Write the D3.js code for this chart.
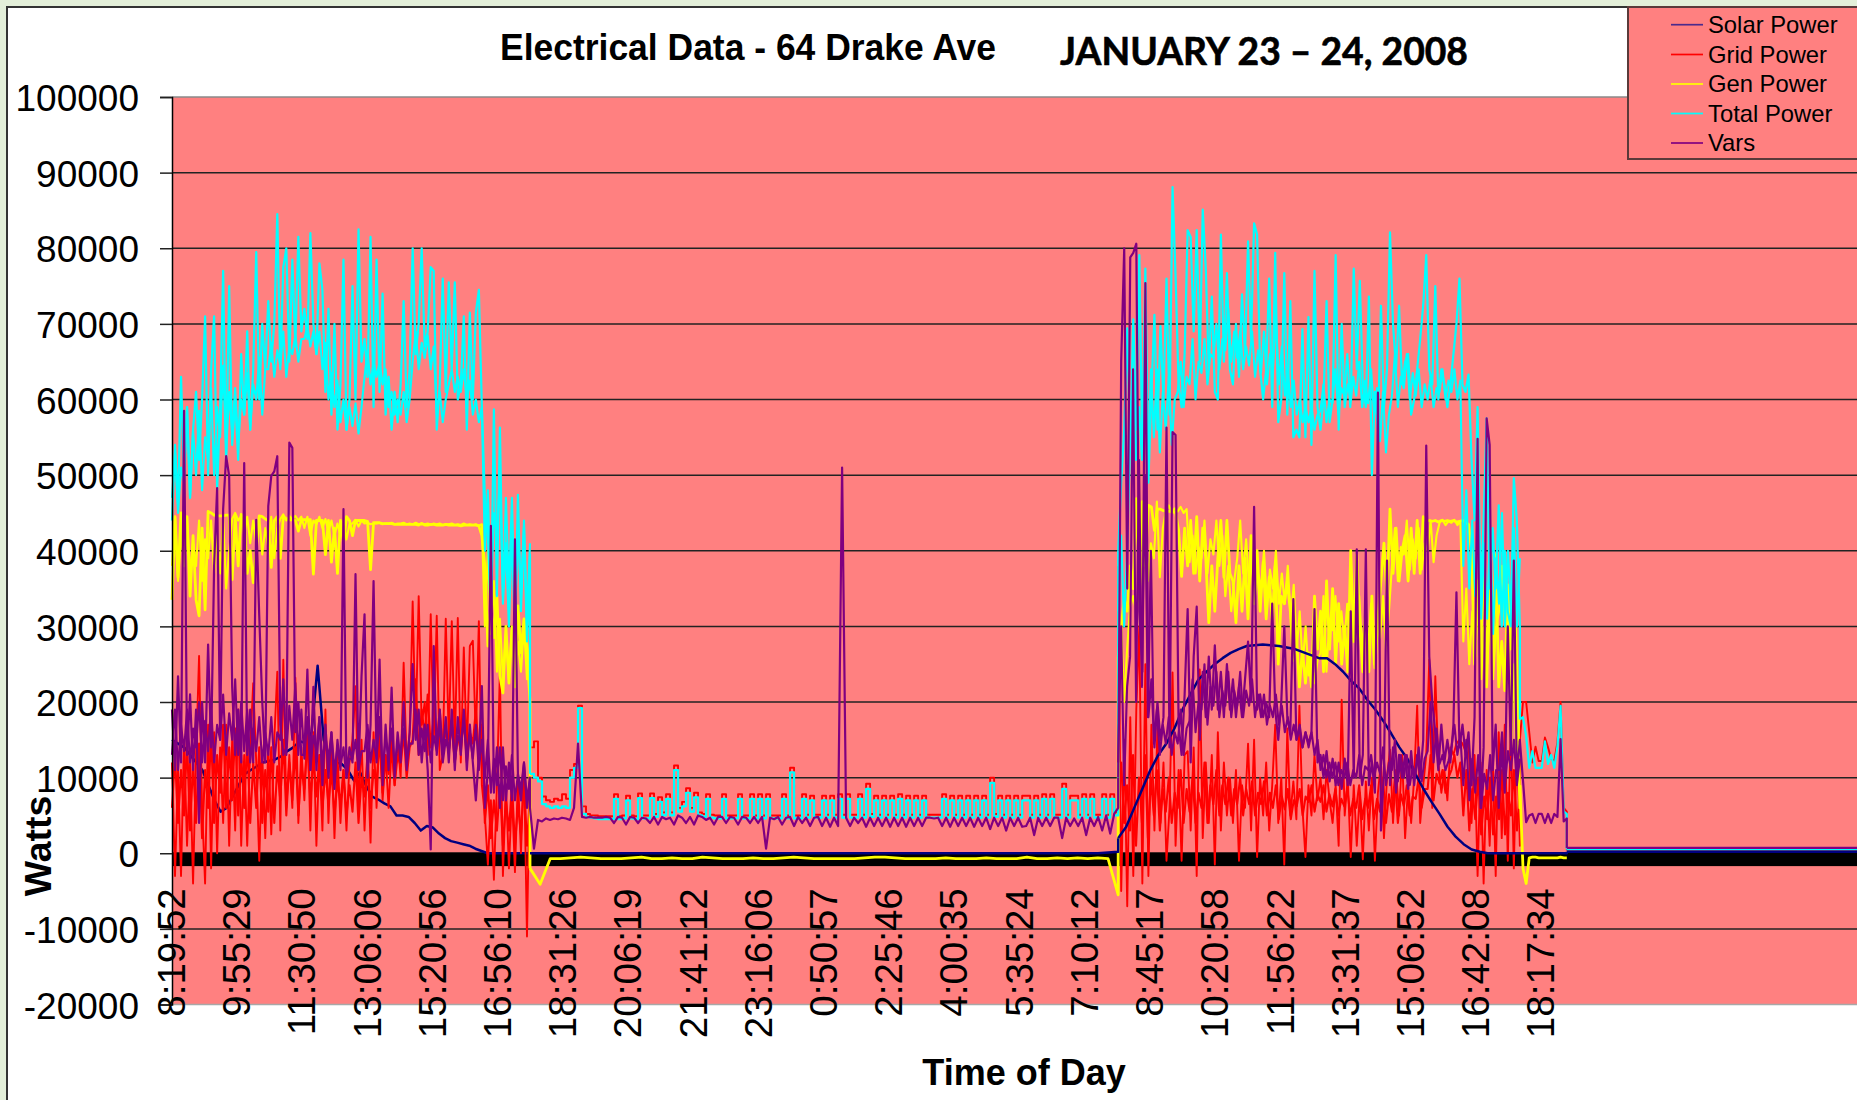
<!DOCTYPE html>
<html>
<head>
<meta charset="utf-8">
<script src="https://cdn.jsdelivr.net/npm/d3@7"></script>
<style>
  html, body { margin: 0; padding: 0; background: #e3efd9; }
  svg { display: block; }
  text { font-family: "Liberation Sans", Arial, sans-serif; fill: #000; }
</style>
</head>
<body>
<div id="chart"></div>
<script>
// Tick labels along the time axis
const timeLabels = ["8:19:52", "9:55:29", "11:30:50", "13:06:06", "15:20:56", "16:56:10", "18:31:26",
  "20:06:19", "21:41:12", "23:16:06", "0:50:57", "2:25:46", "4:00:35", "5:35:24", "7:10:12", "8:45:17",
  "10:20:58", "11:56:22", "13:31:37", "15:06:52", "16:42:08", "18:17:34"];
const wattTicks = d3.range(-20000, 100001, 10000);

// Each one comes in stretches: first day, night, second day, evening tail, idle.
const totalDayOne = [440,540,460,630,500,590,470,560,610,520,
  600,710,500,640,710,480,590,770,510,750,
  540,600,520,660,580,690,560,640,795,600,
  700,640,730,650,700,845,640,775,800,650,
  785,670,815,690,720,680,820,700,660,780,
  745,610,720,580,700,560,620,785,560,600,
  750,600,825,650,680,630,815,590,785,610,
  740,580,630,560,610,570,620,730,590,640,
  800,660,700,800,670,690,775,770,560,620,
  760,610,755,640,755,600,620,710,560,715,
  600,715,745,590,470,420,310,587,340,563,
  330,410,300,430,290,474,320,430,280,395];
const totalNight = [105,100,95,65,62,60,62,60,62,60,
  100,113,192,52,48,47,46,45,45,45,
  45,72,45,46,70,46,45,73,46,46,
  73,48,68,50,72,50,110,55,62,80,
  55,74,50,48,72,47,46,46,72,46,
  46,46,72,46,46,72,46,72,46,72,
  46,46,46,72,46,107,46,46,72,47,
  70,47,47,70,47,70,47,72,47,72,
  47,47,72,47,85,48,70,47,70,47,
  70,47,72,47,70,47,70,47,70,47,
  47,47,47,72,47,70,47,70,47,70,
  47,70,47,70,47,93,48,70,47,70,
  47,70,47,70,70,47,70,47,72,47,
  72,47,47,85,47,70,70,47,72,47,
  72,47,47,72,47,72,50,95];
const totalDayTwo = [400,490,560,694,540,706,560,791,530,773,
  490,610,712,560,697,600,760,580,881,763,
  620,590,660,824,815,690,824,650,851,773,
  640,736,610,600,818,650,767,640,620,700,
  630,739,660,809,680,833,818,640,600,640,
  760,590,794,570,600,767,580,730,550,560,
  550,693,550,709,540,770,590,560,600,730,
  570,600,791,560,700,590,620,600,773,640,
  757,620,590,736,500,610,560,724,590,640,
  821,700,640,724,620,650,660,580,600,640,
  680,725,791,640,620,750,600,640,620,590,
  620,660,700,760,620,610,633,520,440,590,
  340,440,575,350,430,350,460,300,400,320,
  300,496,440,300];
const totalTail = [177,180,155,113,135,113,113,113,148,118,130,113,141,195,55,52];
const totalIdle = [5,5];

const gridDayOne = [120,-30,110,-30,150,10,120,-40,130,261,
  60,-40,170,-20,160,0,140,40,170,10,
  150,30,190,10,130,10,140,225,120,-10,
  130,20,140,25,150,240,30,256,60,130,
  60,232,40,140,70,170,30,160,10,130,
  30,190,40,150,20,130,40,110,30,120,
  150,221,60,150,30,130,14,160,60,170,
  70,130,60,140,90,150,100,252,120,160,
  333,160,340,170,200,130,316,150,314,110,
  130,310,150,307,140,311,120,272,130,274,
  281,150,307,90,50,-15,70,-35,90,241,
  -30,90,-20,80,-25,100,0,120,-110,120];
const gridNight = [140,148,100,75,70,68,72,70,78,72,
  110,118,195,62,52,50,50,49,49,49,
  49,78,49,50,76,50,49,79,50,50,
  79,52,74,54,78,54,116,60,68,86,
  60,80,54,52,78,51,50,50,78,50,
  50,50,78,50,50,78,50,78,50,78,
  50,50,50,78,50,113,50,50,78,51,
  76,51,51,76,51,76,51,78,51,78,
  51,51,78,51,92,52,76,51,76,51,
  76,51,78,51,76,51,76,51,76,51,
  51,51,51,78,51,76,51,76,51,76,
  51,76,51,76,51,100,52,76,51,76,
  51,76,51,76,76,51,76,51,78,51,
  78,51,51,92,51,76,76,51,78,51,
  78,51,51,78,51,78,54,110];
const gridDayTwo = [380,-50,150,-70,180,-30,190,300,-40,250,
  -30,170,30,165,40,120,-10,60,239,10,
  110,-10,130,135,30,140,-30,243,20,120,
  40,130,-15,160,30,120,50,100,40,110,
  -10,90,60,145,30,150,-5,100,50,120,
  30,90,170,40,100,-15,165,50,95,45,
  195,60,-5,90,50,130,70,100,45,110,
  70,40,90,10,203,50,100,-5,90,10,
  80,-8,95,30,100,-10,80,120,20,100,
  137,40,110,50,130,20,90,40,100,195,
  40,90,130,256,60,234,120,80,110,70,
  140,130,145,150,145,135,150,40,130,-30,
  120,-40,110,10,130,-30,160,20,170,-10,
  170,-20,160,10];
const gridTail = [150,200,200,160,120,141,122,122,153,140,125,122,147,200,60,55];
const gridIdle = [4,4];

const genDayOne = [335,445,365,450,380,445,340,420,335,314,
  430,322,452,450,447,446,446,446,447,447,
  362,445,380,448,440,370,400,358,400,446,
  445,442,440,378,440,445,390,445,442,441,
  441,440,426,441,441,441,441,369,440,440,
  440,395,440,385,430,370,440,410,445,440,
  420,440,440,440,440,439,375,437,437,437,
  436,436,436,436,435,435,435,435,435,435,
  435,435,434,436,434,434,435,435,434,434,
  434,435,434,434,434,434,433,434,434,434,
  434,434,433,420,380,274,330,285,340,235,
  212,300,225,295,220,327,265,310,270,200];
const genNight = [-20,-41,-7,-7,-6,-5,-6,-7,-7,-7,-6,-5,-7,-7,-6,-7,-7,-5,-6,-7,
  -7,-7,-6,-7,-7,-6,-5,-6,-7,-7,-7,-7,-7,-6,-5,-5,-6,-7,-7,-7,
  -7,-6,-7,-7,-7,-6,-7,-7,-7,-5,-7,-7,-6,-7,-6,-7,-6,-7,-55];
const genDayTwo = [260,300,336,320,380,350,469,370,465,380,
  460,458,427,455,455,453,452,452,451,451,
  427,366,430,380,440,370,445,360,430,390,
  305,380,320,390,440,365,440,370,360,305,
  380,320,390,310,420,330,400,320,385,310,
  365,305,380,250,340,330,360,320,255,290,
  220,269,225,265,220,340,270,320,240,360,
  270,350,250,330,250,300,240,400,280,395,
  300,240,310,240,340,245,310,360,410,340,
  455,370,430,360,400,420,360,430,370,440,
  370,445,439,440,439,440,438,440,439,440,
  439,440,438,439,440,438,435,400,250,360,
  255,400,220,360,240,395,220,280,215,355,
  270,385,245,60];
const genTail = [90,-20,-40,-6,-5,-5,-6,-6,-6,-6,-6,-6,-6,-5,-6,-6];

const varsDayOne = [190,110,234,120,585,130,210,110,190,40,
  200,120,276,140,380,483,150,455,525,499,
  220,130,190,120,516,130,190,120,441,314,
  200,120,459,499,505,525,170,130,140,543,
  536,160,200,130,130,243,110,220,110,180,
  90,170,100,160,85,150,110,455,100,140,
  120,369,110,234,316,100,170,360,120,256,
  90,170,110,219,100,160,120,200,110,160,
  250,150,190,120,170,110,5,274,130,190,
  130,180,120,190,110,180,130,190,110,170,
  120,70,130,221,60,110,433,80,140,60,
  140,70,120,70,415,100,70,120,60,100];
const varsNight = [60,6,44,42,46,44,46,45,47,46,
  44,60,145,48,47,48,47,47,47,48,
  47,40,48,47,38,48,47,40,47,46,
  40,48,38,48,45,47,38,50,47,40,
  48,38,50,48,44,47,38,48,48,40,
  48,47,38,48,47,40,48,40,48,6,
  47,45,48,38,47,48,36,48,40,47,
  36,47,48,36,47,35,47,36,510,47,
  36,47,40,47,35,47,36,47,36,47,
  35,47,36,47,35,47,36,47,36,47,
  47,46,47,36,47,35,47,36,47,36,
  47,35,47,36,47,32,47,36,47,30,
  47,36,47,35,36,47,24,47,36,47,
  36,47,47,20,47,36,46,36,47,24,
  47,36,48,30,50,26,52,60];
const varsDayTwo = [100,651,800,350,788,794,806,320,240,754,
  180,230,140,200,150,180,563,140,557,553,
  170,130,210,323,120,260,326,150,240,180,
  260,190,275,190,240,180,250,190,230,180,
  220,180,230,280,200,458,190,210,180,200,
  180,330,190,150,200,300,180,160,336,150,
  165,140,160,145,160,323,120,130,100,135,
  95,125,90,120,85,125,90,320,100,402,
  100,130,402,90,120,80,609,30,110,387,
  90,140,80,130,100,130,85,135,90,130,
  100,150,539,260,200,160,110,170,120,150,
  120,170,345,140,170,130,160,90,180,548,
  60,140,575,540,110,170,60,140,80,300,
  130,387,100,150];
const varsTail = [149,96,41,50,52,40,52,52,40,52,40,52,48,151,42,46];
const varsIdle = [7,7];

const solarDayOne = [150,145,140,130,120,110,90,70,55,60,75,90,105,110,115,120,122,124,128,135,
  140,148,146,160,248,150,124,120,118,110,96,107,89,75,71,66,62,50,50,48,
  40,30,36,34,26,20,16,14,12,10,6,3,0,0,0,0,0,0,0,0];
const solarNight = [0,0,0,0,0,0,0,0,0,0,0,0,0,0,0,0,0,0,0,0,0,0,0,0,0,0,0,0,0,2];
const solarDayTwo = [20,35,60,85,110,130,145,165,190,210,230,240,250,258,265,270,274,275,276,275,
  274,272,270,266,262,258,258,250,240,228,218,203,190,175,158,140,125,105,85,68,
  52,35,22,12,5,2,0,0,0,0,0];
const solarTail = [0,0];
const solarIdle = [2,2];

// Thick daytime mass of each series, the fast swing that sits under the taller spikes
const totalBodyOne = [470,530,450,510, 490,590,470,560, 500,585,480,550, 520,615,500,590, 550,645,530,610,
  555,615,540,600, 580,635,560,620, 600,655,580,640, 640,675,630,665, 645,690,630,670,
  660,685,650,680, 680,698,670,690, 660,690,640,675, 600,635,590,625, 570,600,560,590,
  565,595,555,590, 630,665,620,650, 630,650,620,640, 590,610,580,600, 580,610,570,600,
  650,690,640,675, 655,685,640,670, 580,610,570,600, 620,640,610,630, 610,640,600,625,
  580,600,570,590, 400,480,330,450, 420,500,340,470, 350,470,310,430, 340,440,310,410];
const totalBodyTwo = [320,420,300,400, 540,620,520,590, 520,700,500,640, 550,640,530,610, 560,630,540,600,
  610,650,590,630, 620,680,600,650, 635,680,620,660, 655,700,640,680, 665,720,650,690,
  655,690,640,670, 645,690,630,665, 635,690,620,660, 640,710,620,670, 605,640,590,625,
  580,600,570,590, 570,590,560,580, 585,620,570,600, 595,640,580,615, 605,660,590,630,
  605,650,590,625, 595,640,580,615, 545,610,530,580, 605,660,590,630, 615,660,600,635,
  605,640,590,620, 600,630,590,615, 610,640,600,625, 610,640,600,625, 380,480,350,440,
  340,450,310,410, 310,430,290,390, 330,450,300,400, 320,430,300,390];

const gridBodyOne = [60,130,40,110, 50,150,30,120, 40,145,20,110, 60,160,40,130, 80,170,60,140,
  70,165,50,130, 60,150,40,120, 60,140,40,110, 55,140,40,115, 70,150,50,120,
  70,140,50,115, 85,150,70,125, 75,130,60,110, 65,110,50,95, 65,110,50,90,
  55,120,40,100, 75,130,60,110, 95,150,80,130, 105,150,90,130, 115,160,100,140,
  150,230,130,190, 155,210,140,180, 145,190,130,165, 135,170,120,155, 135,180,120,160,
  145,190,130,170, 40,90,20,70, 30,90,10,70, 30,90,10,65, 25,100,10,75];
const gridBodyTwo = [60,120,40,90, 30,130,10,100, 40,130,20,100, 50,110,30,85, 55,100,40,80,
  60,110,40,85, 55,100,40,80, 60,120,40,90, 65,110,50,90, 65,100,50,85,
  65,100,50,85, 65,95,50,80, 65,95,50,80, 60,90,45,75, 58,85,45,70,
  62,85,50,75, 68,90,55,78, 68,90,55,78, 62,85,50,72, 62,85,50,72,
  60,90,45,72, 60,90,45,72, 55,100,40,78, 55,100,40,78, 62,90,50,75,
  72,100,60,85, 85,130,70,105, 92,110,80,100, 110,130,100,120, 50,110,30,85,
  45,100,25,75, 45,100,25,75, 45,110,25,80, 50,110,30,85];

const genBodyOne = [380,445,360,420, 390,440,370,410, 380,440,360,415, 390,440,370,420, 370,445,350,400,
  442,450,440,446, 420,445,410,440, 410,445,395,430, 405,445,390,430, 442,448,440,446,
  442,446,440,445, 430,445,420,440, 435,445,430,442, 425,440,420,436, 420,440,415,435,
  436,441,432,440, 436,437,435,436, 436,437,435,436, 436,437,435,436, 436,437,435,436,
  435,437,435,436, 435,436,434,436, 435,436,434,435, 435,436,434,435, 434,436,434,435,
  434,435,433,435, 300,400,290,360, 240,310,230,290, 230,300,220,280, 240,300,230,280];
const genBodyTwo = [220,300,200,270, 325,340,320,335, 380,440,360,410, 390,465,365,430, 452,460,450,456,
  452,458,450,455, 385,420,370,405, 390,440,370,415, 395,440,380,420, 340,380,320,360,
  390,440,370,415, 355,385,340,370, 350,400,330,375, 350,400,330,370, 330,380,310,355,
  270,320,250,300, 235,265,225,255, 265,340,240,310, 295,340,280,320, 280,330,260,305,
  285,340,270,315, 270,330,250,305, 285,340,270,320, 380,430,360,405, 395,440,375,415,
  390,430,375,410, 400,440,385,420, 437,441,434,439, 437,441,434,439, 280,350,250,320,
  260,340,230,300, 250,330,230,300, 320,380,300,350, 140,250,100,200];

const varsBodyOne = [130,190,110,170, 135,190,120,165, 140,200,120,175, 135,195,120,170, 150,210,130,185,
  150,230,130,200, 135,190,120,165, 135,180,120,160, 130,180,120,160, 150,230,130,195,
  150,225,130,190, 125,180,110,155, 135,180,120,155, 125,160,110,140, 115,140,100,125,
  125,150,110,135, 135,170,120,150, 125,180,110,150, 130,165,115,145, 135,165,120,145,
  145,190,130,165, 135,170,120,155, 135,170,120,150, 135,175,120,155, 145,175,130,155,
  125,170,110,150, 100,150,80,125, 90,140,70,115, 85,130,70,105, 85,120,70,100];
const varsBodyTwo = [120,300,90,220, 260,640,200,520, 220,500,180,400, 145,190,130,170, 145,180,130,160,
  145,190,130,165, 175,230,160,200, 190,250,170,220, 195,240,180,215, 195,240,180,215,
  195,240,180,215, 195,230,180,210, 180,210,170,195, 180,210,170,195, 160,180,150,170,
  150,170,140,160, 140,160,130,150, 110,130,100,120, 100,120,90,110, 100,120,90,110,
  100,130,90,115, 110,130,100,120, 105,140,90,120, 110,150,95,130, 100,130,90,115,
  105,140,95,125, 135,200,120,165, 118,130,110,122, 140,170,130,155, 90,150,70,125,
  80,130,60,105, 85,130,70,110, 110,160,90,135, 110,150,90,125];

// the heavy black strip along zero, same units
const stripTop = 1;
const stripBottom = -17;

// Where each stretch sits on the axis, in tick-label slots
const dayOneSpan = [0, 5.49];
const nightSpan = [5.49, 14.51];
const dayTwoSpan = [14.51, 20.67];
const tailSpan = [20.67, 21.39];
const idleSpan = [21.39, 25.84];

const seriesNames = ["Solar Power", "Grid Power", "Gen Power", "Total Power", "Vars"];
const seriesColors = ["#000080", "#ff0000", "#ffff00", "#00ffff", "#800080"];
const seriesWidths = [2.5, 1.9, 2.8, 2.2, 2.2];

const W = 1857, H = 1100;
const plot = { left: 172, right: 1857, top: 97, bottom: 1004.5 };

const x = d3.scaleLinear().domain([0, idleSpan[1]]).range([plot.left, plot.right]);
const y = d3.scaleLinear().domain([-20000, 100000]).range([plot.bottom, plot.top]);

// array position -> slot inside its stretch
function stretch(values, span) {
  const pos = d3.scaleLinear().domain([0, values.length - 1]).range(span);
  return values.map((v, i) => ({ slot: pos(i), watts: v * 100 }));
}

const seriesStretches = [
  [solarDayOne, solarNight, solarDayTwo, solarTail, solarIdle],
  [gridDayOne, gridNight, gridDayTwo, gridTail, gridIdle],
  [genDayOne, genNight, genDayTwo, genTail, null],
  [totalDayOne, totalNight, totalDayTwo, totalTail, totalIdle],
  [varsDayOne, varsNight, varsDayTwo, varsTail, varsIdle]
];
const stretchSpans = [dayOneSpan, nightSpan, dayTwoSpan, tailSpan, idleSpan];

const seriesBodies = [
  [],
  [[gridBodyOne, dayOneSpan], [gridBodyTwo, dayTwoSpan]],
  [[genBodyOne, dayOneSpan], [genBodyTwo, dayTwoSpan]],
  [[totalBodyOne, dayOneSpan], [totalBodyTwo, dayTwoSpan]],
  [[varsBodyOne, dayOneSpan], [varsBodyTwo, dayTwoSpan]]
];

const svg = d3.select("#chart").append("svg").attr("width", W).attr("height", H);

// Page frame
svg.append("rect").attr("x", 7).attr("y", 7).attr("width", W).attr("height", H)
  .attr("fill", "#fff").attr("stroke", "#333").attr("stroke-width", 2);

// Plot area
svg.append("rect")
  .attr("x", plot.left).attr("y", plot.top)
  .attr("width", plot.right - plot.left).attr("height", plot.bottom - plot.top)
  .attr("fill", "#ff8080");
svg.append("line").attr("x1", plot.left).attr("x2", plot.right).attr("y1", plot.top).attr("y2", plot.top)
  .attr("stroke", "#8a8a8a").attr("stroke-width", 1.5);
svg.append("line").attr("x1", plot.left).attr("x2", plot.right).attr("y1", plot.bottom).attr("y2", plot.bottom)
  .attr("stroke", "#a8a8a8").attr("stroke-width", 1.5);

// Gridlines
svg.append("g").selectAll("line")
  .data(wattTicks.filter(d => d !== -20000 && d !== 100000))
  .join("line")
  .attr("x1", plot.left).attr("x2", plot.right)
  .attr("y1", d => y(d)).attr("y2", d => y(d))
  .attr("stroke", "#222").attr("stroke-width", 1.5);

// Black strip at zero
svg.append("rect")
  .attr("x", plot.left).attr("width", plot.right - plot.left)
  .attr("y", y(stripTop * 100)).attr("height", y(stripBottom * 100) - y(stripTop * 100))
  .attr("fill", "#000");

const plain = d3.line().x(d => x(d.slot)).y(d => y(d.watts));
const stepped = d3.line().x(d => x(d.slot)).y(d => y(d.watts)).curve(d3.curveStepAfter);

function drawStretch(i, s) {
  const parts = seriesStretches[i];
  if (!parts[s]) return;
  const pts = stretch(parts[s], stretchSpans[s]);
  if (parts[s + 1]) pts.push(stretch(parts[s + 1], stretchSpans[s + 1])[0]);
  // night spikes of grid and total are very narrow so they step instead of slope
  svg.append("path")
    .datum(pts)
    .attr("fill", "none")
    .attr("stroke", seriesColors[i])
    .attr("stroke-width", seriesWidths[i])
    .attr("stroke-linejoin", "round")
    .attr("d", s === 1 && (i === 1 || i === 3) ? stepped : plain);
}

// First-day solar disappears under the grid mass, second-day solar sits above gen and total
drawStretch(0, 0);
[1, 2, 3].forEach(i => {
  seriesBodies[i].forEach(b => {
    svg.append("path")
      .datum(stretch(b[0], b[1]))
      .attr("fill", "none")
      .attr("stroke", seriesColors[i])
      .attr("stroke-width", 2.1)
      .attr("stroke-linejoin", "round")
      .attr("d", plain);
  });
  seriesStretches[i].forEach((v, s) => drawStretch(i, s));
});
[1, 2, 3, 4].forEach(s => drawStretch(0, s));
seriesBodies[4].forEach(b => {
  svg.append("path")
    .datum(stretch(b[0], b[1]))
    .attr("fill", "none")
    .attr("stroke", seriesColors[4])
    .attr("stroke-width", 2.1)
    .attr("stroke-linejoin", "round")
    .attr("d", plain);
});
seriesStretches[4].forEach((v, s) => drawStretch(4, s));

// Axes
const yAxis = svg.append("g")
  .attr("transform", `translate(${plot.left},0)`)
  .call(d3.axisLeft(y).tickValues(wattTicks).tickFormat(d => String(d)).tickSize(12).tickPadding(21));
yAxis.select(".domain").attr("stroke", "#000").attr("stroke-width", 1.5);
yAxis.selectAll(".tick line").attr("stroke", "#222").attr("stroke-width", 1.5);
yAxis.selectAll("text").attr("dy", "0.37em").style("font-size", "37px").attr("font-family", null);

const xAxis = svg.append("g")
  .attr("transform", `translate(0,${y(0)})`)
  .call(d3.axisBottom(x).tickValues(d3.range(timeLabels.length)).tickFormat(i => timeLabels[i]).tickSize(0));
xAxis.select(".domain").remove();
xAxis.selectAll("text")
  .attr("transform", "rotate(-90)")
  .attr("x", -35)
  .attr("y", -1)
  .attr("dy", "0.35em")
  .attr("text-anchor", "end")
  .style("font-size", "38.5px")
  .attr("font-family", null);

// Titles
svg.append("text").attr("x", 500).attr("y", 60)
  .attr("textLength", 496).attr("lengthAdjust", "spacingAndGlyphs")
  .style("font-size", "37px").style("font-weight", "bold")
  .text("Electrical Data - 64 Drake Ave");

svg.append("text").attr("x", 1060).attr("y", 65)
  .attr("textLength", 408).attr("lengthAdjust", "spacingAndGlyphs")
  .style("font-family", "Lato, sans-serif").style("font-size", "38px").style("font-weight", "bold")
  .style("stroke", "#000").style("stroke-width", 0.6)
  .text("JANUARY 23 – 24, 2008");

svg.append("text").attr("transform", "translate(50.5,846) rotate(-90)")
  .attr("text-anchor", "middle")
  .style("font-size", "37.5px").style("font-weight", "bold")
  .text("Watts");

svg.append("text").attr("x", 1024).attr("y", 1085)
  .attr("text-anchor", "middle")
  .style("font-size", "36px").style("font-weight", "bold")
  .text("Time of Day");

// Legend (top-right)
const legend = svg.append("g");
legend.append("rect")
  .attr("x", 1628).attr("y", 7).attr("width", 240).attr("height", 152)
  .attr("fill", "#ff8080").attr("stroke", "#5a3a3a").attr("stroke-width", 2);
const legendRows = [24.7, 54.5, 84, 113.5, 143];
seriesNames.forEach((name, i) => {
  legend.append("line")
    .attr("x1", 1671).attr("x2", 1703)
    .attr("y1", legendRows[i]).attr("y2", legendRows[i])
    .attr("stroke", i === 0 ? "#4b2a8c" : seriesColors[i]).attr("stroke-width", 1.7);
  legend.append("text")
    .attr("x", 1708).attr("y", legendRows[i] + 8)
    .style("font-size", "23.8px")
    .text(name);
});
</script>
</body>
</html>
